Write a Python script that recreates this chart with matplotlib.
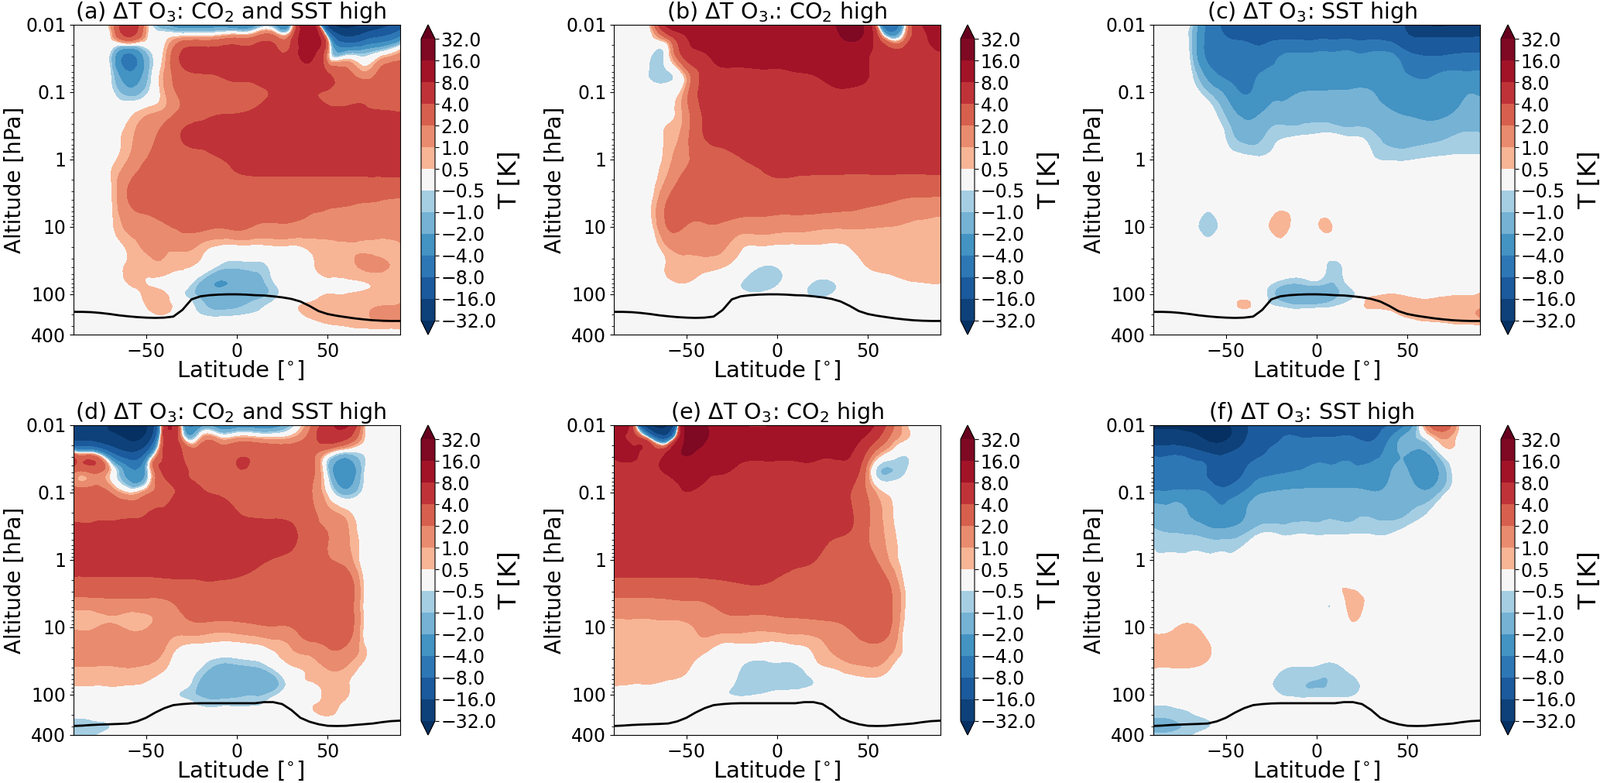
import numpy as np
import matplotlib
matplotlib.use("Agg")
import matplotlib.pyplot as plt
import matplotlib.tri as mtri

plt.rcParams['font.family'] = 'DejaVu Sans'
plt.rcParams['mathtext.default'] = 'regular'

lat = np.arange(-90, 91, 10)
lev = [0.01, 0.015, 0.025, 0.05, 0.1, 0.2, 0.4, 1, 2, 4, 10, 20, 40, 70, 100, 150, 200, 300, 400]

panel_a = [
    [0, 0.2, 0.8, 6, 1, -2, -3, -3, -3, -4, -3, -2, -1, 12, -20, -40, -30, -20, -12],
    [0, 0.2, 0.3, 4, 0.7, 0.1, 0.6, 0.7, 1, 1.5, 2, 2.5, 3, 12, -1, -16, -12, -8, -4],
    [0, 0, -0.4, -3.5, -1, 0.6, 4.2, 5, 5, 5, 5, 5, 5, 10, 1.5, -2, -1.5, -0.5, 0.8],
    [0, 0, -0.4, -3.9, -1.5, 1, 3.5, 4.2, 4.5, 5, 5, 5.5, 6, 6.5, 3.9, 2.5, 1, 2.5, 3],
    [0, 0, -0.2, -1.5, -0.7, 0.9, 2.5, 2.8, 3, 3.2, 3.5, 4.2, 5, 4.5, 3.8, 3.5, 3.5, 3.5, 3.5],
    [0, 0, 0, 0.2, 0.8, 1.2, 2.5, 3.3, 3.8, 3.9, 4.3, 4.8, 5, 5, 4.6, 4.4, 4.2, 4.1, 4],
    [0, 0, 0.2, 0.7, 1.5, 2.5, 4.1, 4.5, 4.8, 5, 5, 5, 5, 5, 5, 5, 5, 5, 5],
    [0, 0, 0.3, 1, 2, 2.5, 3, 3.5, 3.9, 4.5, 5, 5, 5, 5, 5, 5, 5, 5, 5],
    [0, 0, 0.4, 1.8, 2.5, 3, 3, 3.2, 3.4, 3.6, 3.7, 3.7, 3.7, 3.7, 3.7, 3.7, 3.7, 3.7, 3.7],
    [0, 0, 0.3, 2, 2.5, 3, 3, 3, 3, 2.7, 2.6, 2.5, 2.5, 2.4, 2.3, 2.2, 2.1, 2, 1.9],
    [0, 0, 0.3, 1.2, 1.5, 1.8, 2.3, 2.4, 2.1, 2.3, 1.9, 1.8, 1.8, 1.6, 1.5, 1.5, 1.5, 1.5, 1.5],
    [0, 0, 0.2, 0.6, 1.1, 1.1, 1.2, 0.8, 0.4, 0.3, 0.3, 0.4, 0.4, 0.6, 0.8, 0.9, 0.9, 0.8, 0.9],
    [0, 0, 0.1, 0.6, 0.7, 0.8, 0.55, 0.2, -0.7, -0.9, -0.8, -0.3, 0.2, 0.4, 0.7, 0.8, 1.1, 1.1, 0.8],
    [0, 0, 0, 0.5, 0.5, 0.3, 0, -1.2, -2.1, -1.8, -1.4, -0.6, 0.1, 0.3, 0.4, 0.4, 0.45, 0.6, 0.7],
    [0, 0, 0, 0.2, 0.6, 0.6, -0.4, -1.2, -1.6, -1.4, -1.2, -0.8, 0.1, 0.3, 0.5, 0.5, 0.6, 0.7, 0.8],
    [0, 0, 0, 0, 0.5, 0.7, 0.1, -0.8, -1.2, -1.1, -0.8, -0.2, 0.4, 0.6, 0.7, 0.7, 0.8, 1, 1.1],
    [0, 0, 0, 0, 0.3, 0.5, 0, -0.5, -0.7, -0.6, -0.4, 0, 0.3, 0.6, 0.7, 0.8, 0.9, 1.3, 1.3],
    [0, 0, 0, 0, 0, 0, 0, 0, 0, 0, 0, 0, 0, 0.2, 0.4, 0.5, 0.6, 0.65, 0.7],
    [0, 0, 0, 0, 0, 0, 0, 0, 0, 0, 0, 0, 0, 0, 0, 0.1, 0.2, 0.3, 0.3],
]

panel_b = [
    [0, 0, 0.6, 10, 14, 15, 15, 14, 12, 7.5, 12, 14, 15, 20, 12, -8, -1, 8, 12],
    [0, 0, 0.3, 3, 8, 12, 12, 12, 12, 12, 12, 12, 13, 18, 12, -0.5, 1, 7, 9],
    [0, 0, -0.2, 0.3, 6, 8.2, 11, 11, 11, 11, 11, 11, 11, 12, 9, 5, 5, 7, 8],
    [0, 0, -0.6, -0.55, 1.5, 5, 7, 7, 7.5, 7.5, 8, 8.5, 10, 11, 8.3, 5, 5, 5, 5],
    [0, 0, 0, 0, 1.5, 5, 5.5, 5.5, 6, 6, 6, 6, 7, 7, 6.5, 6, 5.5, 5.5, 5.5],
    [0, 0, 0, 0.3, 1.5, 4.5, 5.5, 5.5, 5.5, 5.5, 5.5, 5.5, 5.5, 5.5, 5.5, 5.5, 5.5, 5.5, 5.5],
    [0, 0, 0, 0.6, 1.6, 4.2, 5, 5.5, 5.5, 5.5, 5.5, 5.5, 5.5, 5.5, 5.5, 5.5, 5.5, 5.5, 5.5],
    [0, 0, 0, 0.8, 1.8, 2.8, 3.3, 3.9, 4.4, 5, 5, 5, 5, 5, 5, 5, 5, 5, 5],
    [0, 0, 0.2, 1.2, 2.5, 3, 3.3, 3.5, 3.7, 3.9, 3.8, 3.7, 3.7, 3.6, 3.6, 3.6, 3.5, 3.5, 3.5],
    [0, 0, 0.3, 2.1, 3, 3, 3, 3, 3, 2.9, 2.8, 2.8, 2.7, 2.6, 2.4, 2.2, 1.9, 1.8, 1.7],
    [0, 0, 0.2, 2.1, 1.9, 1.8, 1.8, 1.4, 1.4, 1.3, 1.3, 1.2, 1.1, 1.1, 1.05, 1, 0.95, 0.9, 0.9],
    [0, 0, 0, 1, 1.2, 1.2, 1.1, 0.55, 0.45, 0.4, 0.4, 0.45, 0.45, 0.5, 0.75, 0.8, 0.8, 0.8, 0.8],
    [0, 0, 0, 0.6, 0.8, 0.7, 0.5, 0.1, -0.5, -0.5, 0, 0, 0.1, 0.2, 0.5, 0.65, 0.7, 0.7, 0.7],
    [0, 0, 0, 0.3, 0.45, 0.1, 0, -0.5, -0.9, -0.6, 0, -0.6, -0.6, 0, 0.1, 0.2, 0.35, 0.45, 0.48],
    [0, 0, 0, 0, 0, 0, 0, -0.3, -0.4, -0.1, 0, -0.7, -0.5, 0, 0, 0, 0, 0, 0],
    [0, 0, 0, 0, 0, 0, 0, 0, 0, 0, 0, 0, 0, 0, 0, 0, 0, 0, 0],
    [0, 0, 0, 0, 0, 0, 0, 0, 0, 0, 0, 0, 0, 0, 0, 0, 0, 0, 0],
    [0, 0, 0, 0, 0, 0, 0, 0, 0, 0, 0, 0, 0, 0, 0, 0, 0, 0, 0],
    [0, 0, 0, 0, 0, 0, 0, 0, 0, 0, 0, 0, 0, 0, 0, 0, 0, 0, 0],
]

panel_c = [
    [0, 0, -0.5, -5, -9, -10, -10, -10, -10, -10, -10, -10, -10, -12, -18, -32, -35, -30, -25],
    [0, 0, -0.7, -5, -8, -8.5, -9, -9, -9, -9, -9, -9, -9, -10, -15, -17, -17, -16.5, -16],
    [0, 0, -0.6, -5, -7, -7, -7, -4.8, -4.3, -4.1, -4.1, -4.1, -4.1, -4.2, -8, -9, -9, -8.5, -8.3],
    [0, 0, -0.3, -3, -5, -5, -4, -3.5, -3.4, -3.3, -3.3, -3.3, -3.3, -3.5, -4.2, -5, -4, -3.9, -3.8],
    [0, 0, 0, -1, -2.5, -4.2, -3, -2.5, -2.1, -1.9, -1.8, -1.7, -1.9, -3, -3, -3, -2.8, -2.2, -2.1],
    [0, 0, 0, -0.2, -1.2, -2.5, -2, -1.6, -1.4, -1.2, -1.4, -1.5, -1.5, -1.9, -2.1, -2.3, -2.3, -1.8, -1.7],
    [0, 0, 0, 0, -0.6, -1.5, -1.2, -0.7, -0.65, -0.55, -0.55, -0.7, -0.9, -1.5, -1.6, -1.5, -1.3, -1, -1],
    [0, 0, 0, 0, -0.2, -0.3, -0.4, -0.2, 0, 0, 0, -0.1, -0.4, -0.55, -0.55, -0.45, -0.4, -0.4, -0.4],
    [0, 0, 0, 0, 0, 0, 0, 0, 0, 0, 0, 0, 0, 0, 0, 0, 0, 0, 0],
    [0, 0, 0, 0, 0, 0, 0, 0, 0, 0, 0, 0, 0, 0, 0, 0, 0, 0, 0],
    [0, 0, 0, -0.85, 0, 0, 0, 0.9, 0, 0.42, 0.42, 0, 0, 0, 0, 0, 0, 0, 0],
    [0, 0, 0, 0, 0, 0, 0, 0, 0, 0, 0, 0, 0, 0, 0, 0, 0, 0, 0],
    [0, 0, 0, 0, 0, 0, 0, 0, 0, -0.1, -0.7, 0, 0, 0, 0, 0, 0, 0, 0],
    [0, 0, 0, 0, 0, 0, -0.2, -0.8, -1, -0.8, -1, -0.2, 0, 0, 0, 0, 0, 0, 0],
    [0, 0, 0, 0, 0, 0.1, -0.3, -1.3, -1.6, -1.7, -1.2, -0.6, 0.3, 0.5, 0.4, 0.3, 0.4, 0.45, 0.55],
    [0, 0, 0, 0, 0, 0.65, -0.1, -0.6, -0.9, -0.8, -0.55, -0.1, 0.7, 0.7, 0.7, 0.7, 0.7, 0.8, 0.9],
    [0, 0, 0, 0, 0, 0, 0, -0.1, 0, 0, 0, 0, 0, 0.3, 0.6, 0.7, 0.7, 0.9, 1.1],
    [0, 0, 0, 0, 0, 0, 0, 0, 0, 0, 0, 0, 0, 0, 0.2, 0.3, 0.35, 0.4, 0.4],
    [0, 0, 0, 0, 0, 0, 0, 0, 0, 0, 0, 0, 0, 0, 0, 0, 0, 0, 0.1],
]

panel_d = [
    [-20, -28, -32, -38, -35, 5, -1.5, -3, -3, -3, -3, -3, -1, 1.5, 6, 9, 0.8, 0.2, 0],
    [-20, -22, -28, -35, -28, 5, 0.7, 0.5, 0.5, 0.7, 0.6, 0.4, 0.8, 2.5, 6, 5, 0.6, 0.2, 0],
    [0.3, -1, -8, -16, -9, 4.5, 3.9, 3, 3, 3.5, 3.5, 3, 3, 2.8, 1, -0.5, -0.4, 0, 0],
    [2.3, 2.2, 0.6, -3, -1.5, 4.5, 4.5, 3.5, 3, 3.8, 3.5, 3, 3, 2.5, -0.7, -3.5, -0.6, 0, 0],
    [3, 3, 2, 0.5, 1.5, 3, 4.5, 4.3, 3.7, 3.3, 3, 3, 3, 2.2, 0.3, -1.5, -0.3, 0, 0],
    [3.5, 3.5, 3.5, 3.5, 3.9, 4.5, 5, 5, 5, 4.1, 3.6, 3.5, 3.3, 2.5, 1.3, 0.7, 0, 0, 0],
    [5, 5, 5, 5, 5, 5, 5, 5, 5, 5, 5, 5, 4.5, 2.9, 2, 1.2, 0.2, 0, 0],
    [5, 5, 5, 5, 5, 5, 5, 5, 5, 5, 4.5, 3.9, 3.5, 3, 2.1, 1.5, 0.2, 0, 0],
    [3.7, 3.7, 3.7, 3.7, 3.7, 3.8, 3.9, 4, 4, 3.9, 3.7, 3.5, 3.5, 3.5, 3.5, 3, 0.4, 0, 0],
    [1.7, 1.7, 1.8, 1.8, 1.8, 1.9, 2.6, 3.5, 3.5, 3.5, 3.5, 3.5, 3.5, 3.5, 3.5, 3.2, 0.4, 0, 0],
    [0.9, 0.9, 1.1, 0.9, 0.95, 1.2, 1.4, 1.6, 1.4, 1.5, 1.7, 1.9, 2, 3, 3, 3, 0.4, 0, 0],
    [1.5, 1.5, 1.5, 1.5, 1.5, 1.05, 0.4, 0.3, 0.2, 0.2, 0.3, 0.6, 1, 1.5, 2, 1.9, 0.6, 0, 0],
    [0.95, 0.95, 0.95, 1, 0.9, 0.55, 0.1, -0.5, -1.3, -1.3, -1.1, -0.4, 0.4, 0.6, 1.05, 0.95, 0.3, 0, 0],
    [0.55, 0.55, 0.6, 0.55, 0.4, 0.2, -0.1, -1.2, -1.8, -1.9, -1.8, -1.4, -0.1, 0.4, 0.7, 0.6, 0.1, 0, 0],
    [0.2, 0.2, 0.1, 0, 0, 0, -0.6, -1.1, -1.3, -1.2, -1.1, -0.7, 0, 0.1, 0.7, 0.6, 0, 0, 0],
    [0, 0, 0, 0, 0, 0, 0, -0.5, -0.55, -0.55, -0.5, -0.1, 0, 0.4, 0.7, 0.3, 0, 0, 0],
    [-0.3, -0.2, 0, 0, 0, 0, 0, 0, 0, 0, 0, 0, 0, 0.3, 0.55, 0.2, 0, 0, 0],
    [-0.8, -0.8, -0.5, 0, 0, 0, 0, 0, 0, 0, 0, 0, 0, 0, 0, 0, 0, 0, 0],
    [-0.8, -0.7, 0, 0, 0, 0, 0, 0, 0, 0, 0, 0, 0, 0, 0, 0, 0, 0, 0],
]

panel_e = [
    [10, 5, -30, -32, 20, 18, 14, 9, 7, 8, 10, 12, 12, 12, 10, 4, 0.7, 0, 0],
    [10, 6, -3, -10, 18, 18, 11, 11, 11, 11, 11, 11, 11, 10, 7, 2.5, 0.7, 0, 0],
    [9, 9, 6, 8.5, 17, 12, 10, 10, 10, 10, 10, 10, 9, 8.5, 3.5, 0.6, -0.3, 0, 0],
    [6, 6, 6, 9, 11, 9, 8.3, 6.5, 6, 6, 6, 6, 6, 6, 1.2, -1.1, -0.6, 0, 0],
    [6, 6, 6, 6, 7.9, 6.5, 6, 6, 6, 6, 6, 6, 5, 4.1, 1.8, 0.4, 0, 0, 0],
    [6, 6, 6, 6, 6, 6, 6, 6, 6, 6, 6, 6, 6, 4.4, 2.2, 0.8, 0.1, 0, 0],
    [6, 6, 6, 6, 6, 6, 6, 6, 6, 6, 6, 5.5, 4.5, 3.9, 2.1, 0.9, 0.2, 0, 0],
    [5.5, 5.5, 5.5, 5.5, 5.5, 5.5, 5.5, 5.5, 5, 5, 4.6, 4.1, 3.3, 3, 2.6, 1.2, 0.3, 0, 0],
    [3.7, 3.7, 3.7, 3.7, 3.7, 3.8, 4, 4.2, 4.2, 3.9, 3.5, 3.4, 3.3, 3.3, 3.2, 2.2, 0.4, 0, 0],
    [1.8, 1.8, 1.8, 1.9, 2, 2.1, 2.6, 3, 3, 3, 3, 3, 3, 3, 3, 2.6, 0.6, 0, 0],
    [0.9, 0.9, 0.9, 0.9, 0.9, 1.2, 1.3, 1.3, 1.2, 1.3, 1.4, 1.5, 1.7, 2.1, 3, 2.6, 0.4, 0, 0],
    [0.85, 0.85, 0.85, 0.85, 0.85, 0.7, 0.3, 0.3, 0.25, 0.2, 0.35, 0.6, 1.1, 1.4, 1.7, 1.5, 0.4, 0, 0],
    [0.75, 0.75, 0.75, 0.75, 0.6, 0.1, 0, -0.5, -0.8, -0.7, -0.7, 0.1, 0.5, 0.8, 0.95, 0.7, 0, 0, 0],
    [0.55, 0.5, 0.5, 0.35, 0.2, 0, -0.2, -0.7, -0.8, -0.8, -0.75, -0.5, 0, 0.1, 0.2, 0.1, 0, 0, 0],
    [0.2, 0.2, 0, 0, 0, 0, -0.4, -0.6, -0.5, -0.3, -0.3, 0, 0, 0, 0, 0, 0, 0, 0],
    [0, 0, 0, 0, 0, 0, 0, 0, 0, 0, 0, 0, 0, 0, 0, 0, 0, 0, 0],
    [0, 0, 0, 0, 0, 0, 0, 0, 0, 0, 0, 0, 0, 0, 0, 0, 0, 0, 0],
    [0, 0, 0, 0, 0, 0, 0, 0, 0, 0, 0, 0, 0, 0, 0, 0, 0, 0, 0],
    [0, 0, 0, 0, 0, 0, 0, 0, 0, 0, 0, 0, 0, 0, 0, 0, 0, 0, 0],
]

panel_f = [
    [-35, -35, -35, -36, -36, -18, -17, -10, -10, -10, -10, -10, -10, -8, -3.5, 1.2, 3, 0, 0],
    [-25, -25, -28, -36, -36, -18, -12, -8.5, -8, -8, -8, -8, -9, -4.5, -1.5, -0.3, 1.2, 0, 0],
    [-10, -10, -12, -17, -18, -12, -8.5, -6, -5, -5, -5, -5, -5.5, -3, -1.9, -2.1, 0, 0, 0],
    [-6.5, -6.5, -6.5, -8.5, -12, -8, -5, -4.2, -3.9, -3.5, -3.5, -3.5, -3.5, -2.2, -1.9, -3, -1.4, 0, 0],
    [-3.5, -3.5, -3.5, -4.2, -6, -3.8, -2.1, -1.8, -1.6, -1.6, -1.6, -1.6, -1.9, -1.6, -1.3, -1.8, -0.7, 0, 0],
    [-1.7, -1.7, -2.1, -3, -3.5, -2.2, -1.4, -1.2, -1.1, -1.1, -1.1, -1.1, -1.1, -1.2, -1.05, -0.6, 0, 0, 0],
    [-0.8, -1, -1.1, -1.4, -1.5, -1.1, -0.5, -0.6, -0.55, -0.6, -0.55, -0.55, -0.55, -0.55, -0.2, 0, 0, 0, 0],
    [-0.4, -0.4, -0.4, -0.4, -0.4, -0.3, -0.1, 0, 0, 0, 0, 0, 0, 0, 0, 0, 0, 0, 0],
    [0, 0, 0, 0, 0, 0, 0, 0, 0, 0, 0.45, -0.1, 0, 0, 0, 0, 0, 0, 0],
    [0, 0, 0, 0, 0, 0, 0, 0, 0, 0, -0.3, 0.9, 0, 0, 0, 0, 0, 0, 0],
    [0.3, 0.4, 0.6, 0.2, 0, 0, 0, 0, 0, 0, 0, 0.25, 0, 0, 0, 0, 0, 0, 0],
    [0.8, 0.8, 0.8, 0.6, 0, 0, 0, 0, 0, 0, 0, 0, 0, 0, 0, 0, 0, 0, 0],
    [0.5, 0.5, 0.5, 0.3, 0, 0, 0, -0.4, -0.55, -0.6, -0.7, -0.2, 0, 0, 0, 0, 0, 0, 0],
    [0, 0, 0, 0, 0, 0, -0.2, -0.7, -0.9, -1.05, -0.95, -0.8, 0, 0, 0, 0, 0, 0, 0],
    [0, 0, 0, 0, 0, 0, 0, -0.5, -0.7, -0.7, -0.7, -0.6, 0, 0, 0, 0, 0, 0, 0],
    [-0.6, -0.5, -0.3, 0, 0, 0, 0, 0, 0, 0, 0, 0, 0, 0, 0, 0, 0, 0, 0],
    [-0.9, -0.8, -0.6, -0.3, 0, 0, 0, 0, 0, 0, 0, 0, 0, 0, 0, 0, 0, 0, 0],
    [-1.2, -1.2, -0.8, -0.55, -0.1, 0, 0, 0, 0, 0, 0, 0, 0, 0, 0, 0, 0, 0, 0],
    [-0.9, -0.8, -0.6, -0.1, 0, 0, 0, 0, 0, 0, 0, 0, 0, 0, 0, 0, 0, 0, 0],
]

# tropopause, one line for each row of panels
lat_tp = np.arange(-90, 91, 5)
tp_top = [184, 184, 186, 191, 198, 207, 214, 220, 224, 226, 224, 216, 172, 120, 108, 104, 102, 101,
          101, 102, 104, 105, 108, 112, 118, 129, 150, 179, 198, 210, 220, 230, 238, 245, 249, 251, 251]
tp_bottom = [294, 290, 284, 280, 277, 274, 270, 251, 222, 186, 160, 144, 139, 136, 135, 135, 135, 135,
             135, 135, 135, 130, 130, 139, 170, 222, 254, 277, 292, 294, 292, 284, 277, 270, 258, 249, 245]

titles = [r'(a) $\Delta$T O$_3$: CO$_2$ and SST high', r'(b) $\Delta$T O$_3$.: CO$_2$ high',
          r'(c) $\Delta$T O$_3$: SST high', r'(d) $\Delta$T O$_3$: CO$_2$ and SST high',
          r'(e) $\Delta$T O$_3$: CO$_2$ high', r'(f) $\Delta$T O$_3$: SST high']
panels = [panel_a, panel_b, panel_c, panel_d, panel_e, panel_f]
contour_levels = [-32, -16, -8, -4, -2, -1, -0.5, 0.5, 1, 2, 4, 8, 16, 32]
cbar_labels = ['\u221232.0', '\u221216.0', '\u22128.0', '\u22124.0', '\u22122.0', '\u22121.0', '\u22120.5',
               '0.5', '1.0', '2.0', '4.0', '8.0', '16.0', '32.0']
y_ticks = [0.01, 0.1, 1, 10, 100, 400]
y_ticklabels = ['0.01', '0.1', '1', '10', '100', '400']

# the colours of the bands skip the pale middle of RdBu_r
cmap_pos = [0.0, 0.035, 0.08, 0.14, 0.2, 0.265, 0.33, 0.5, 0.67, 0.735, 0.8, 0.86, 0.92, 0.965, 1.0]
band_colors = [plt.cm.RdBu_r(p) for p in cmap_pos]

W, H = 2067, 1011
left_px = [95, 793, 1490]
cbar_px = [544, 1241, 1939]
top_px = [32, 549]
ax_w, ax_h = 422, 400
title_x = [0.481, 0.5, 0.485]
xlabel_x = [0.512, 0.5, 0.5]

fig = plt.figure(figsize=(W / 100, H / 100), dpi=100)

lon2d, lev2d = np.meshgrid(lat, np.log10(lev))
tri = mtri.Triangulation(lon2d.ravel(), lev2d.ravel())
refiner = mtri.UniformTriRefiner(tri)

for i, data in enumerate(panels):
    col = i % 3
    row = i // 3
    ax = fig.add_axes([left_px[col] / W, 1 - (top_px[row] + ax_h) / H, ax_w / W, ax_h / H])
    fine_tri, fine_z = refiner.refine_field(np.array(data, dtype=float).ravel(), subdiv=3)
    fine_plot = mtri.Triangulation(fine_tri.x, 10 ** fine_tri.y, fine_tri.triangles)
    cf = ax.tricontourf(fine_plot, fine_z, levels=contour_levels, colors=band_colors, extend='both')
    ax.plot(lat_tp, tp_top if row == 0 else tp_bottom, color='k', lw=2)
    ax.set_yscale('log')
    ax.set_xlim(-90, 90)
    ax.set_ylim(400, 0.01)
    ax.set_yticks(y_ticks)
    ax.set_yticklabels(y_ticklabels)
    ax.set_xticks([-50, 0, 50])
    ax.tick_params(labelsize=17)
    ax.set_title(titles[i], fontsize=20.5, pad=2, x=title_x[col])
    ax.set_xlabel('Latitude [$^{\\circ}$]', fontsize=21, labelpad=-2, x=xlabel_x[col])
    ax.set_ylabel('Altitude [hPa]', fontsize=20, labelpad=0)

    cax = fig.add_axes([cbar_px[col] / W, 1 - (top_px[row] + ax_h) / H, 18 / W, ax_h / H])
    cb = fig.colorbar(cf, cax=cax, ticks=contour_levels)
    cb.set_ticklabels(cbar_labels)
    cb.ax.tick_params(labelsize=17, pad=2)
    cb.set_label('T [K]', fontsize=23, labelpad=1)

fig.savefig('out.png', dpi=100)
